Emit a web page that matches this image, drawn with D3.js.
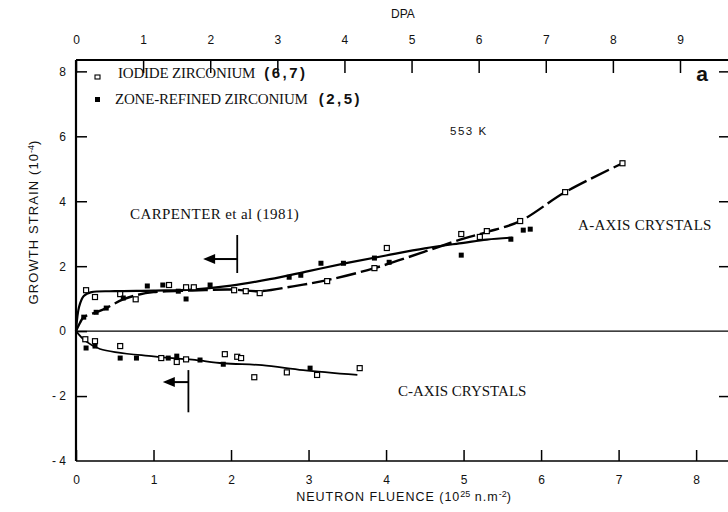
<!DOCTYPE html>
<html><head><meta charset="utf-8">
<script src="https://cdn.jsdelivr.net/npm/d3@7"></script>
<style>
body{margin:0;background:#fff}
text{fill:#111}
.sans{font-family:"Liberation Sans",Arial,sans-serif}
.serif{font-family:"Liberation Serif","Times New Roman",serif}
</style></head>
<body><svg id="c" width="728" height="512"></svg>
<script>
// ---------- data ----------
const fluenceTicks = [0,1,2,3,4,5,6,7,8];
const dpaTicks = [0,1,2,3,4,5,6,7,8,9];
const strainTicks = [-4,-2,0,2,4,6,8];

// A-axis crystals
const iodideA = [[0.13,1.26],[0.245,1.05],[0.57,1.14],[0.77,0.98],[1.2,1.42],[1.42,1.35],[1.52,1.35],
  [2.04,1.26],[2.19,1.23],[2.37,1.17],[3.24,1.54],[3.85,1.94],[4.01,2.56],[4.97,2.99],[5.21,2.9],
  [5.3,3.08],[5.73,3.39],[6.31,4.28],[7.05,5.17]];
const zoneA = [[0.1,0.43],[0.26,0.58],[0.39,0.71],[0.61,1.02],[0.92,1.39],[1.12,1.42],[1.32,1.23],
  [1.42,0.99],[1.73,1.42],[2.75,1.66],[2.9,1.72],[3.16,2.09],[3.45,2.09],[3.85,2.25],[4.04,2.12],
  [4.97,2.34],[5.61,2.83],[5.77,3.11],[5.86,3.14]];
// C-axis crystals
const iodideC = [[0.12,-0.25],[0.245,-0.31],[0.57,-0.46],[1.1,-0.83],[1.3,-0.95],[1.42,-0.87],
  [1.92,-0.71],[2.08,-0.79],[2.13,-0.83],[2.3,-1.42],[2.72,-1.27],[3.11,-1.35],[3.66,-1.14]];
const zoneC = [[0.13,-0.52],[0.245,-0.46],[0.57,-0.83],[0.78,-0.83],[1.19,-0.83],[1.3,-0.77],
  [1.6,-0.89],[1.9,-1.02],[3.02,-1.14]];

// fitted curves
const curveASolid = [[0,0],[0.04,0.75],[0.1,1.08],[0.2,1.2],[0.5,1.23],[1,1.25],[1.5,1.28],[2,1.4],
  [2.5,1.6],[3,1.85],[3.5,2.1],[4,2.33],[4.5,2.55],[5,2.72],[5.3,2.82],[5.63,2.88]];
const curveADashed = [[0,0],[0.05,0.25],[0.1,0.43],[0.26,0.58],[0.39,0.71],[0.6,0.97],[0.8,1.12],
  [1.0,1.2],[1.5,1.25],[2.0,1.28],[2.37,1.23],[2.8,1.38],[3.24,1.57],[3.85,1.94],[4.5,2.45],
  [5.0,2.85],[5.3,3.05],[5.73,3.39],[6.31,4.28],[7.05,5.17]];
const curveC = [[0,0],[0.12,-0.3],[0.31,-0.55],[1.0,-0.78],[1.5,-0.88],[1.9,-0.99],[2.4,-1.05],
  [2.93,-1.2],[3.63,-1.35]];

// annotation arrows (data coords): vertical bar x, y1, y2, arrow y, arrow tip x
const carpenterMarkA = [2.08, 2.96, 1.79, 2.22, 1.64];
const carpenterMarkC = [1.45, -1.2, -2.5, -1.57, 1.12];

// ---------- chart ----------
const svg = d3.select("#c");
const L=76, R=731, T=60, B=461;
const x = d3.scaleLinear().domain([0,8.45]).range([L,R]);
const xd = d3.scaleLinear().domain([0,9.76]).range([L,R]);
const y = d3.scaleLinear().domain([-4,8.35]).range([B,T]);

const g = svg.append("g");

// frame
g.append("line").attr("x1",L).attr("x2",R).attr("y1",T).attr("y2",T).attr("stroke","#000").attr("stroke-width",2.2);
g.append("line").attr("x1",L).attr("x2",L).attr("y1",T).attr("y2",B).attr("stroke","#000").attr("stroke-width",2.2);
g.append("line").attr("x1",L).attr("x2",R).attr("y1",B).attr("y2",B).attr("stroke","#000").attr("stroke-width",1.6);
g.append("line").attr("x1",R).attr("x2",R).attr("y1",T).attr("y2",B).attr("stroke","#000").attr("stroke-width",1.6);
// zero line
g.append("line").attr("x1",L).attr("x2",R).attr("y1",y(0)).attr("y2",y(0)).attr("stroke","#000").attr("stroke-width",1.2);

// axes
function styleAxis(sel){
  sel.select(".domain").remove();
  sel.selectAll(".tick line").attr("stroke","#000").attr("stroke-width",1.5);
  sel.selectAll(".tick text").attr("class","sans").attr("font-size",12).attr("fill","#111");
}
const xb = g.append("g").attr("transform",`translate(0,${B})`)
  .call(d3.axisBottom(x).tickValues(fluenceTicks).tickSize(-11).tickPadding(14).tickFormat(d3.format("d")));
styleAxis(xb);
const xt = g.append("g").attr("transform",`translate(0,${T})`)
  .call(d3.axisTop(xd).tickValues(dpaTicks).tickSize(-13).tickPadding(16).tickFormat(d3.format("d")));
styleAxis(xt);
const yl = g.append("g").attr("transform",`translate(${L},0)`)
  .call(d3.axisLeft(y).tickValues(strainTicks).tickSize(-11).tickPadding(10).tickFormat(d=>d<0?"- "+Math.abs(d):d));
styleAxis(yl);
yl.selectAll(".tick").filter(d=>d===-4).select("line").remove();
const yr = g.append("g").attr("transform",`translate(${R},0)`)
  .call(d3.axisRight(y).tickValues(strainTicks.filter(d=>d!==0&&d!==-4)).tickSize(-12).tickFormat(""));
styleAxis(yr);

// axis titles
svg.append("text").attr("class","sans").attr("x",403).attr("y",18).attr("text-anchor","middle")
  .attr("font-size",12).text("DPA");
const xtitle = svg.append("text").attr("class","sans").attr("x",404).attr("y",501).attr("text-anchor","middle")
  .attr("font-size",12.5).attr("letter-spacing",1);
xtitle.append("tspan").text("NEUTRON FLUENCE (10");
xtitle.append("tspan").attr("font-size",9).attr("dy",-4).attr("letter-spacing",0).text("25");
xtitle.append("tspan").attr("dy",4).text(" n.m");
xtitle.append("tspan").attr("font-size",9).attr("dy",-4).attr("letter-spacing",0).text("-2");
xtitle.append("tspan").attr("dy",4).text(")");
const ytitle = svg.append("text").attr("class","sans").attr("transform","translate(38,222) rotate(-90)")
  .attr("text-anchor","middle").attr("font-size",13).attr("letter-spacing",1.1);
ytitle.append("tspan").text("GROWTH STRAIN  (10");
ytitle.append("tspan").attr("font-size",9).attr("dy",-4).attr("letter-spacing",0).text("-4");
ytitle.append("tspan").attr("dy",4).text(")");

// curves
const line = d3.line().x(d=>x(d[0])).y(d=>y(d[1])).curve(d3.curveCatmullRom.alpha(0.5));
g.append("path").attr("d",line(curveASolid)).attr("fill","none").attr("stroke","#000").attr("stroke-width",2.2);
g.append("path").attr("d",line(curveADashed)).attr("fill","none").attr("stroke","#000").attr("stroke-width",2.4)
  .attr("stroke-dasharray","20,5");
g.append("path").attr("d",line(curveC)).attr("fill","none").attr("stroke","#000").attr("stroke-width",1.8);

// markers
const S=5;
function openSq(data){
  g.append("g").selectAll("rect").data(data).join("rect")
   .attr("x",d=>x(d[0])-S/2).attr("y",d=>y(d[1])-S/2).attr("width",S).attr("height",S)
   .attr("fill","#fff").attr("stroke","#000").attr("stroke-width",1.2);
}
function fillSq(data){
  g.append("g").selectAll("rect").data(data).join("rect")
   .attr("x",d=>x(d[0])-S/2).attr("y",d=>y(d[1])-S/2).attr("width",S).attr("height",S)
   .attr("fill","#000");
}
openSq(iodideA); openSq(iodideC); fillSq(zoneA); fillSq(zoneC);

// arrows
function mark(m){
  const [vx,y1,y2,ay,tip]=m;
  g.append("line").attr("x1",x(vx)).attr("x2",x(vx)).attr("y1",y(y1)).attr("y2",y(y2)).attr("stroke","#000").attr("stroke-width",1.8);
  g.append("line").attr("x1",x(vx)).attr("x2",x(tip)+10).attr("y1",y(ay)).attr("y2",y(ay)).attr("stroke","#000").attr("stroke-width",2);
  const tx=x(tip), ty=y(ay);
  g.append("path").attr("d",`M${tx},${ty} L${tx+12},${ty-5} L${tx+12},${ty+5} Z`).attr("fill","#000");
}
mark(carpenterMarkA); mark(carpenterMarkC);

// legend
g.append("rect").attr("x",95).attr("y",75).attr("width",5).attr("height",4).attr("fill","#fff").attr("stroke","#000").attr("stroke-width",1.1);
g.append("rect").attr("x",95).attr("y",97).attr("width",5).attr("height",5).attr("fill","#000");
const l1 = svg.append("text").attr("class","serif").attr("x",118).attr("y",78).attr("font-size",15).attr("letter-spacing",-0.2);
l1.append("tspan").text("IODIDE ZIRCONIUM");
l1.append("tspan").attr("class","sans").attr("font-weight","bold").attr("font-size",15).attr("letter-spacing",2.5).attr("dx",9).text("(6,7)");
const l2 = svg.append("text").attr("class","serif").attr("x",115).attr("y",104).attr("font-size",15).attr("letter-spacing",-0.2);
l2.append("tspan").text("ZONE-REFINED ZIRCONIUM");
l2.append("tspan").attr("class","sans").attr("font-weight","bold").attr("font-size",15).attr("letter-spacing",2.5).attr("dx",11).text("(2,5)");

// annotations
svg.append("text").attr("class","sans").attr("font-weight","bold").attr("x",702).attr("y",81).attr("text-anchor","middle").attr("font-size",21).text("a");
svg.append("text").attr("class","sans").attr("x",450).attr("y",135).attr("font-size",11.5).attr("letter-spacing",1.5).text("553 K");
svg.append("text").attr("class","serif").attr("x",130).attr("y",219).attr("font-size",15).attr("letter-spacing",0.4).text("CARPENTER et al (1981)");
svg.append("text").attr("class","serif").attr("x",578).attr("y",230).attr("font-size",15).attr("letter-spacing",0.3).text("A-AXIS  CRYSTALS");
svg.append("text").attr("class","serif").attr("x",398).attr("y",396).attr("font-size",15).attr("letter-spacing",0).text("C-AXIS CRYSTALS");
</script></body></html>
